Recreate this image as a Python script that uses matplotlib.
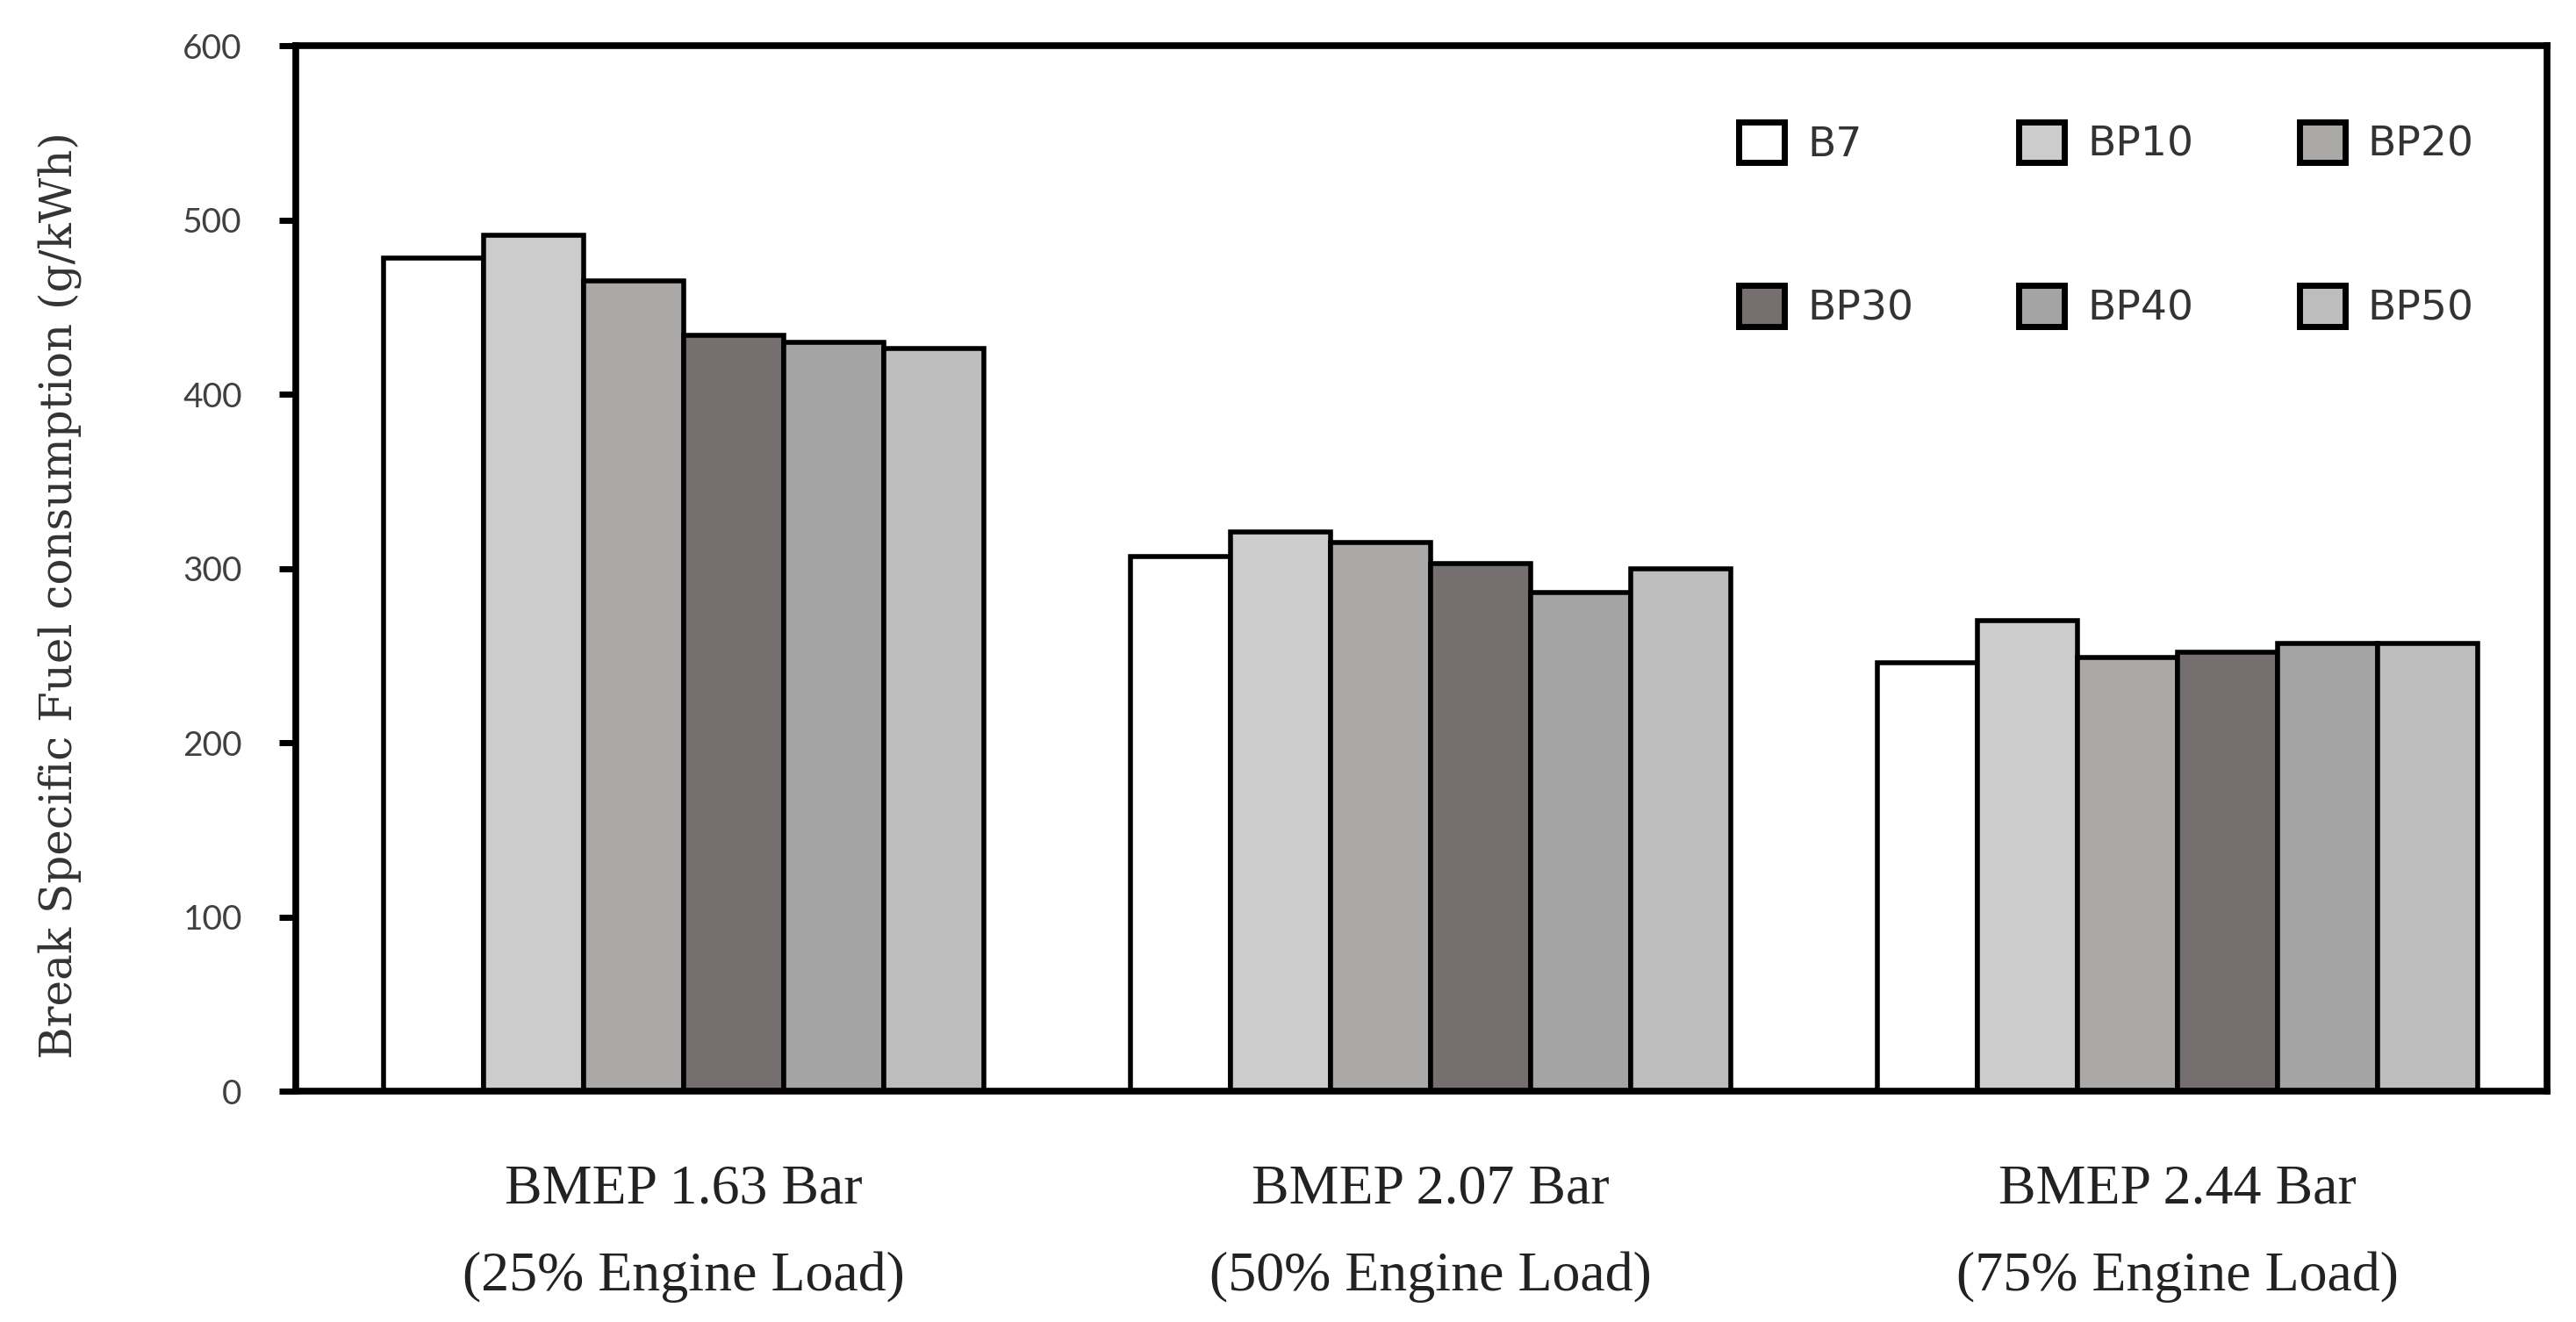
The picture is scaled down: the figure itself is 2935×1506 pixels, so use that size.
import matplotlib.pyplot as plt
import numpy as np

# data
groups = ["BMEP 1.63 Bar\n(25% Engine Load)",
          "BMEP 2.07 Bar\n(50% Engine Load)",
          "BMEP 2.44 Bar\n(75% Engine Load)"]
series = ["B7", "BP10", "BP20", "BP30", "BP40", "BP50"]
b7 = [478, 307, 246]
bp10 = [491, 321, 270]
bp20 = [465, 315, 249]
bp30 = [434, 303, 252]
bp40 = [430, 286, 257]
bp50 = [426, 300, 257]
yticks = [0, 100, 200, 300, 400, 500, 600]

values = [b7, bp10, bp20, bp30, bp40, bp50]
colors = ['#ffffff', '#cccccc', '#aaa9a7', '#75706f', '#a4a4a4', '#bdbdbd']

fig = plt.figure(figsize=(29.35, 15.06), dpi=100)
ax = fig.add_axes([0.1148, 0.1746, 0.8739, 0.7908])

x = np.arange(len(groups))
w = 0.134
bars = []
for i, (name, vals) in enumerate(zip(series, values)):
    b = ax.bar(x + (i - 2.5) * w, vals, width=w, color=colors[i],
               edgecolor='black', linewidth=4, label=name, zorder=2)
    bars.append(b)

ax.set_xlim(-0.52, 2.495)
ax.set_ylim(0, 600)
ax.set_yticks(yticks)
ax.set_xticks(x)
ax.set_xticklabels(groups, family='Liberation Serif', fontsize=46,
                   color='#222222', linespacing=1.93)
ax.tick_params(axis='x', length=0, pad=60)
ax.tick_params(axis='y', direction='out', length=14, width=5, pad=30,
               labelsize=28, labelcolor='#404040')
for lab in ax.get_yticklabels():
    lab.set_family('Lato')

for s in ax.spines.values():
    s.set_linewidth(5.5)
    s.set_color('black')

ax.set_ylabel("Break Specific Fuel consumption (g/kWh)", family='DejaVu Serif',
              fontsize=36, color='#333333')
ax.yaxis.set_label_coords(-0.095, 0.474)

# legend fills column-wise, so reorder to read row-wise like the reference
order = [0, 3, 1, 4, 2, 5]
leg = ax.legend([bars[k] for k in order], [series[k] for k in order],
                ncol=3, loc='upper left', bbox_to_anchor=(0.675, 0.908),
                bbox_transform=fig.transFigure, frameon=False, fontsize=34,
                handlelength=1.1, handleheight=1.15, handletextpad=0.55,
                labelspacing=2.9, columnspacing=2.55, borderpad=0,
                borderaxespad=0)
for t in leg.get_texts():
    t.set_color('#333333')
for p in leg.get_patches():
    p.set_linewidth(5)

plt.savefig("out.png", dpi=100)
